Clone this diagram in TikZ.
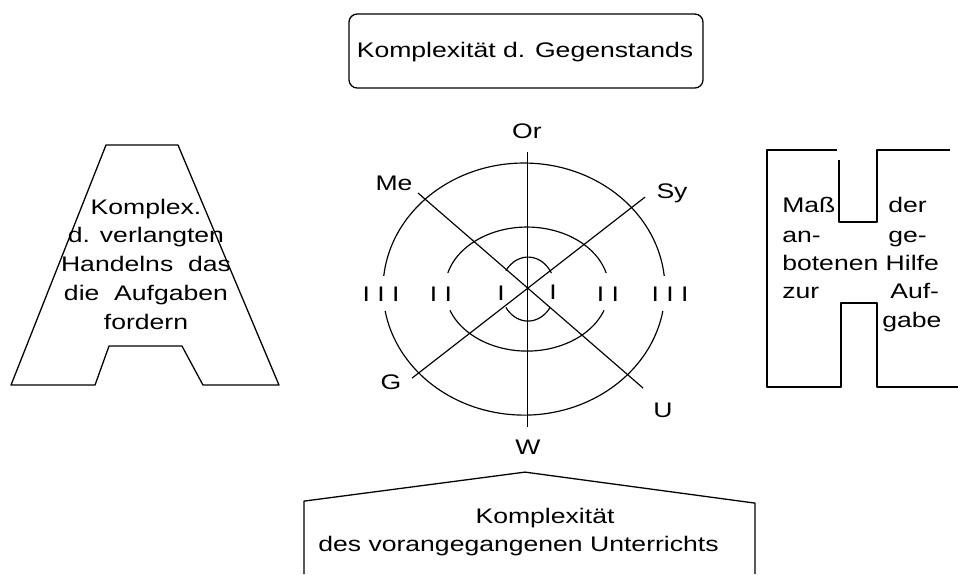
\documentclass[tikz,border=0pt]{standalone}
\usepackage{fontspec}
\setmainfont{Liberation Sans}
\usetikzlibrary{positioning}

\begin{document}
\begin{tikzpicture}[
    x=0.0238cm, y=-0.03cm, xscale=1.26,
    every node/.style={transform shape, inner sep=0pt, font=\fontsize{18}{24.5}\selectfont},
    outline/.style={line width=1.1pt, line join=round},
    spoke/.style={line width=1pt},
    lbl/.style={anchor=base},
    lft/.style={anchor=base west}
]
\useasboundingbox (0,0) rectangle (958,574);

% Gegenstand
\draw[outline, rounded corners=7pt] (349,14) rectangle (703,88);
\node[lbl] (gegen) at (525,57) {Komplexität d. Gegenstands};

% Netz
\coordinate (orEnd) at (527,152);
\coordinate (wEnd)  at (527,427);
\coordinate (meEnd) at (418,193);
\coordinate (uEnd)  at (643,388);
\coordinate (syEnd) at (645,197);
\coordinate (gEnd)  at (412,378);
\draw[spoke] (orEnd) -- (wEnd);
\draw[spoke] (meEnd) -- (uEnd);
\draw[spoke] (syEnd) -- (gEnd);
\foreach \cx/\rx/\ry/\ta/\tb/\ba/\bb in {524/141/126/186/354/10/170, 527/82/62/195/345/20/160, 528/27/32/215/330/35/145}{
  \draw[spoke] (\cx,289) ++({\rx*cos(\ta)},{\ry*sin(\ta)}) arc[start angle=\ta, end angle=\tb, x radius=\rx, y radius=\ry];
  \draw[spoke] (\cx,289) ++({\rx*cos(\ba)},{\ry*sin(\ba)}) arc[start angle=\ba, end angle=\bb, x radius=\rx, y radius=\ry];
}
\node[lbl] (or) at (527,138) {Or};
\node[lbl] (me) at (394,190) {Me};
\node[lbl] (sy) at (672,198) {Sy};
\node[lbl] (g)  at (391,389) {G};
\node[lbl] (u)  at (663,417) {U};
\node[lbl] (w)  at (528,454) {W};
\node[lbl] (iiiL) at (381,301) {I I I};
\node[lbl] (iiL)  at (441,301) {I I};
\node[lbl] (iL)   at (501,300) {I};
\node[lbl] (iR)   at (553,299) {I};
\node[lbl] (iiR)  at (608,301) {I I};
\node[lbl] (iiiR) at (670,301) {I I I};

% A
\draw[outline] (106,145) -- (178,145) -- (279,385) -- (203,385) -- (182,346)
    -- (109,346) -- (95,385) -- (11,385) -- cycle;
\node[align=center] (handeln) at (146,264)
    {Komplex.\\ d. verlangten\\ Handelns~ das\\ die~ Aufgaben\\ fordern};

% H
\draw[outline] (950,150) -- (877,150) -- (877,222) -- (839,222) -- (839,160);
\draw[outline] (837,150) -- (767,150) -- (767,387) -- (841,387) -- (841,303)
    -- (877,303) -- (877,387) -- (958,387);
\node[lft] (mass)  at (782,212) {Maß};
\node[lft] (der)   at (888,212) {der};
\node[lft] (an)    at (782,242) {an-};
\node[lft] (ge)    at (888,242) {ge-};
\node[lft] (hilfe) at (782,270) {botenen Hilfe};
\node[lft] (zur)   at (782,298) {zur};
\node[lft] (auf)   at (890,298) {Auf-};
\node[lft] (gabe)  at (882,327) {gabe};

% Unterricht
\draw[outline] (304,574) -- (304,501) -- (525,472) -- (755,503) -- (755,574);
\node[lbl] (kompl) at (545,523) {Komplexität};
\node[lft] (unterr) at (318,551) {des vorangegangenen Unterrichts};
\end{tikzpicture}
\end{document}
